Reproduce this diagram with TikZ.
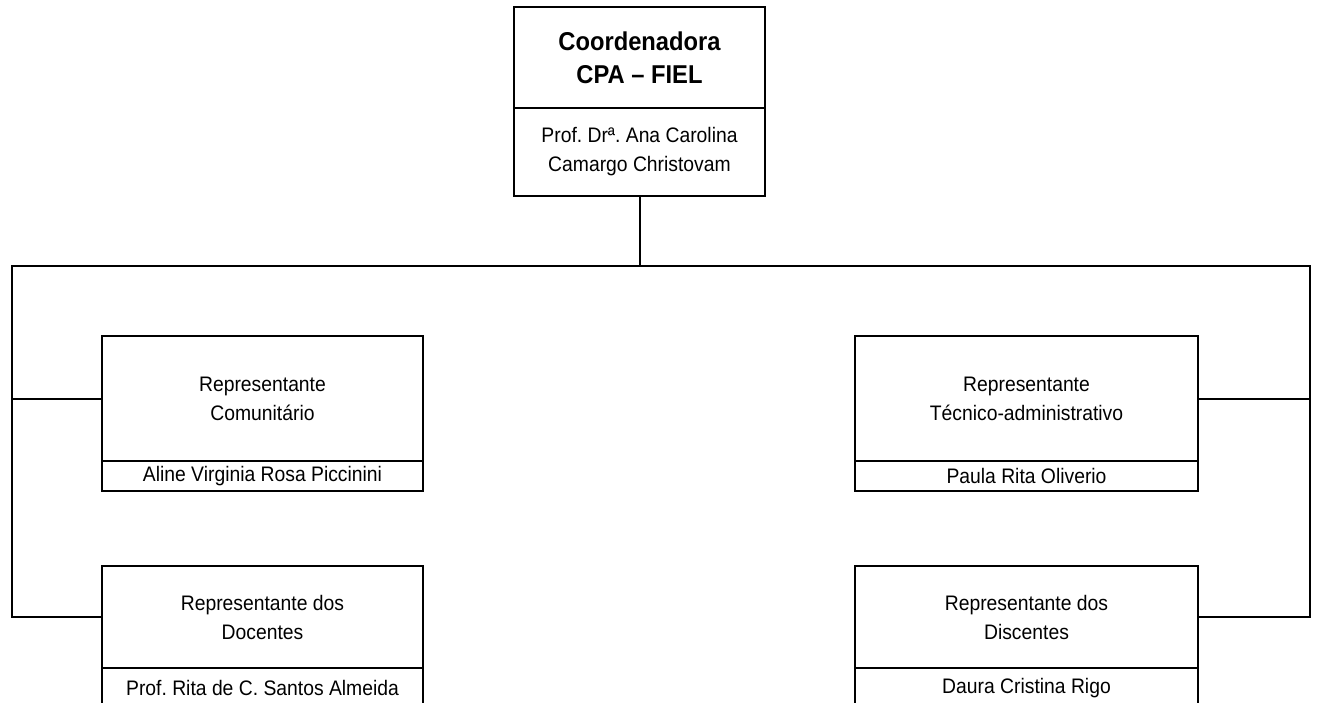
\documentclass[tikz,border=0pt]{standalone}
\usepackage{fontspec}
\setmainfont{Liberation Sans}[FakeStretch=0.92]
\frenchspacing
\begin{document}
\begin{tikzpicture}[x=1pt,y=-1pt,
  every node/.style={inner sep=0pt, outer sep=0pt},
  cell/.style={draw, line width=2pt, align=center, font=\fontsize{21}{29}\selectfont},
  headcell/.style={cell, font=\bfseries\fontsize{25.8}{33}\selectfont},
  link/.style={line width=2pt}]
\useasboundingbox (0,0) rectangle (1317,702);
% top box
\node[headcell, minimum width=251pt, minimum height=101pt] (topa) at (639.5,57.5) {Coordenadora\\CPA – FIEL};
\node[cell, minimum width=251pt, minimum height=88pt] (topb) at (639.5,152) {Prof. Drª. Ana Carolina\\Camargo Christovam};
% left boxes
\node[cell, minimum width=321pt, minimum height=125pt] (coma) at (262.5,398.5) {Representante\\Comunitário};
\node[cell, minimum width=321pt, minimum height=30pt] (comb) at (262.5,476) {Aline Virginia Rosa Piccinini};
\node[cell, minimum width=321pt, minimum height=102pt] (doca) at (262.5,617) {Representante dos\\Docentes};
\node[cell, minimum width=321pt, minimum height=40pt] (docb) at (262.5,688) {Prof. Rita de C. Santos Almeida};
% right boxes
\node[cell, minimum width=343pt, minimum height=125pt] (teca) at (1026.5,398.5) {Representante\\Técnico-administrativo};
\node[cell, minimum width=343pt, minimum height=30pt] (tecb) at (1026.5,476) {Paula Rita Oliverio};
\node[cell, minimum width=343pt, minimum height=102pt] (disa) at (1026.5,617) {Representante dos\\Discentes};
\node[cell, minimum width=343pt, minimum height=40pt] (disb) at (1026.5,688) {Daura Cristina Rigo};
% connectors
\coordinate (hub) at (639.5,266);
\coordinate (lbus) at (12,266);
\coordinate (rbus) at (1310,266);
\draw[link] (topb.south) -- (hub);
\draw[link] (doca.west) -| (lbus) -- (rbus) |- (disa.east);
\draw[link] (coma.west) -- (coma.west -| lbus);
\draw[link] (teca.east) -- (teca.east -| rbus);
\end{tikzpicture}
\end{document}
